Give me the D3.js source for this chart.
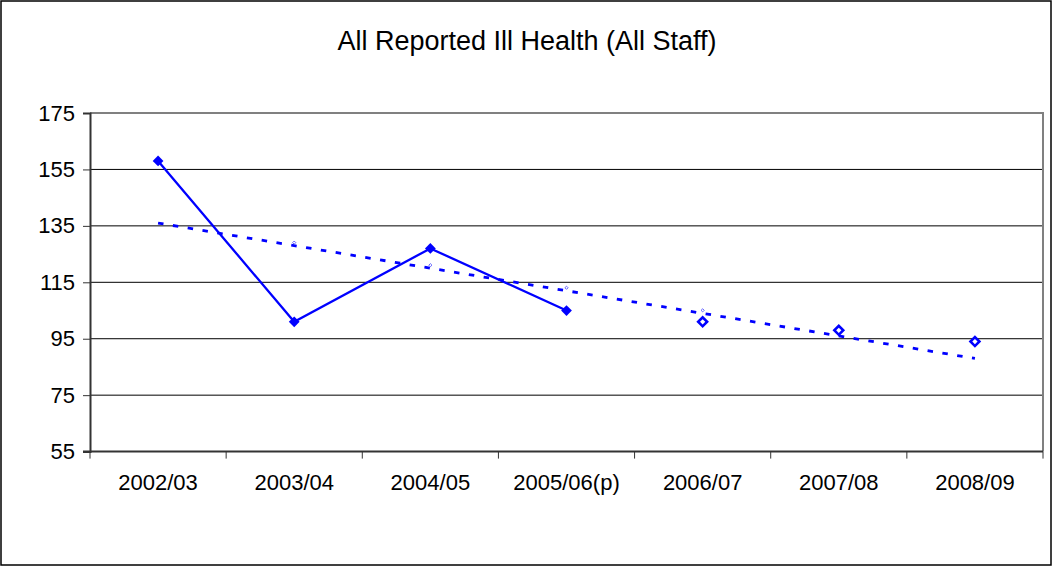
<!DOCTYPE html>
<html>
<head>
<meta charset="utf-8">
<script src="https://cdn.jsdelivr.net/npm/d3@7"></script>
<style>
  html, body { margin: 0; padding: 0; background: #fff; }
  svg { display: block; font-family: Arial, "Liberation Sans", sans-serif; }
</style>
</head>
<body>
<svg id="chart" width="1053" height="567"></svg>
<script>
// Reported ill-health cases per year (all staff)
const categories = ["2002/03", "2003/04", "2004/05", "2005/06(p)", "2006/07", "2007/08", "2008/09"];
const reported = [158, 101, 127, 105];          // recorded years, solid line
const projected = [null, null, null, null, 101, 98, 94]; // later years, open markers
const yTicks = [55, 75, 95, 115, 135, 155, 175];
const title = "All Reported Ill Health (All Staff)";

const svg = d3.select("#chart");
const W = 1053, H = 567;
const plot = { left: 90, right: 1043, top: 113, bottom: 451.6 };
const blue = "#0000ff";

// outer frame
svg.append("rect")
  .attr("x", 1).attr("y", 1).attr("width", W - 3).attr("height", H - 3)
  .attr("fill", "#fff").attr("stroke", "#000").attr("stroke-width", 1.5);

const x = d3.scaleBand().domain(categories).range([plot.left, plot.right]).padding(0);
const y = d3.scaleLinear().domain([55, 175]).range([plot.bottom, plot.top]);
const cx = d => x(d) + x.bandwidth() / 2;

// gridlines
svg.append("g")
  .selectAll("line")
  .data(yTicks.filter(v => v !== 55 && v !== 175))
  .join("line")
  .attr("x1", plot.left).attr("x2", plot.right)
  .attr("y1", d => y(d)).attr("y2", d => y(d))
  .attr("stroke", "#000").attr("stroke-width", 1);

// plot frame (top and right)
svg.append("path")
  .attr("d", `M${plot.left},${y(175)}H${plot.right}V${plot.bottom}`)
  .attr("fill", "none").attr("stroke", "#808080").attr("stroke-width", 2);

// y axis
const yAxis = svg.append("g")
  .attr("transform", `translate(${plot.left},0)`)
  .call(d3.axisLeft(y).tickValues(yTicks).tickSize(7).tickPadding(8));
yAxis.select(".domain").attr("stroke", "#333").attr("stroke-width", 2);
yAxis.selectAll(".tick line").attr("stroke", "#333");
yAxis.selectAll("text").attr("font-size", 22).attr("fill", "#000")
  .attr("font-family", "Arial, 'Liberation Sans', sans-serif");

// x axis: labels centred in bands, ticks on band boundaries
const xAxis = svg.append("g")
  .attr("transform", `translate(0,${plot.bottom})`)
  .call(d3.axisBottom(x).tickSize(0).tickPadding(23));
xAxis.select(".domain").remove();
xAxis.selectAll("text").attr("font-size", 22).attr("fill", "#000")
  .attr("font-family", "Arial, 'Liberation Sans', sans-serif");
svg.append("line")
  .attr("x1", plot.left - 7).attr("x2", plot.right)
  .attr("y1", plot.bottom).attr("y2", plot.bottom)
  .attr("stroke", "#333").attr("stroke-width", 2);
const bounds = categories.map(c => x(c)).concat([plot.right]);
svg.append("g").selectAll("line")
  .data(bounds)
  .join("line")
  .attr("x1", d => d).attr("x2", d => d)
  .attr("y1", plot.bottom).attr("y2", plot.bottom + 7)
  .attr("stroke", "#333").attr("stroke-width", 1);

// linear trend (least squares) across all years
const all = categories.map((c, i) => reported[i] != null ? reported[i] : projected[i]);
const n = all.length;
const mx = d3.mean(d3.range(n)), my = d3.mean(all);
const slope = d3.sum(all, (v, i) => (i - mx) * (v - my)) / d3.sum(d3.range(n), i => (i - mx) ** 2);
const trend = categories.map((c, i) => ({ c, v: my + slope * (i - mx) }));

svg.append("path")
  .datum(trend)
  .attr("d", d3.line().x(d => cx(d.c)).y(d => y(d.v)))
  .attr("fill", "none").attr("stroke", blue).attr("stroke-width", 2.8)
  .attr("stroke-dasharray", "5.5,9.5");

svg.append("g").selectAll("path")
  .data(trend.slice(1, -1))
  .join("path")
  .attr("transform", d => `translate(${cx(d.c)},${y(d.v) - 3}) rotate(45)`)
  .attr("d", d3.symbol(d3.symbolSquare, 5)())
  .attr("fill", "#fff").attr("stroke", "#5a5aff").attr("stroke-width", 0.9);

// recorded series
const rec = categories.map((c, i) => ({ c, v: reported[i] })).filter(d => d.v != null);
svg.append("path")
  .datum(rec)
  .attr("d", d3.line().x(d => cx(d.c)).y(d => y(d.v)))
  .attr("fill", "none").attr("stroke", blue).attr("stroke-width", 2.3);

svg.append("g").selectAll("path")
  .data(rec)
  .join("path")
  .attr("transform", d => `translate(${cx(d.c)},${y(d.v)}) rotate(45)`)
  .attr("d", d3.symbol(d3.symbolSquare, 58)())
  .attr("fill", blue);

// later years, open markers
const proj = categories.map((c, i) => ({ c, v: projected[i] })).filter(d => d.v != null);
svg.append("g").selectAll("path")
  .data(proj)
  .join("path")
  .attr("transform", d => `translate(${cx(d.c)},${y(d.v)}) rotate(45)`)
  .attr("d", d3.symbol(d3.symbolSquare, 40)())
  .attr("fill", "#fff").attr("stroke", blue).attr("stroke-width", 2.6);

// title
svg.append("text")
  .attr("x", 527).attr("y", 50)
  .attr("text-anchor", "middle")
  .attr("font-size", 27)
  .attr("fill", "#000")
  .text(title);
</script>
</body>
</html>
